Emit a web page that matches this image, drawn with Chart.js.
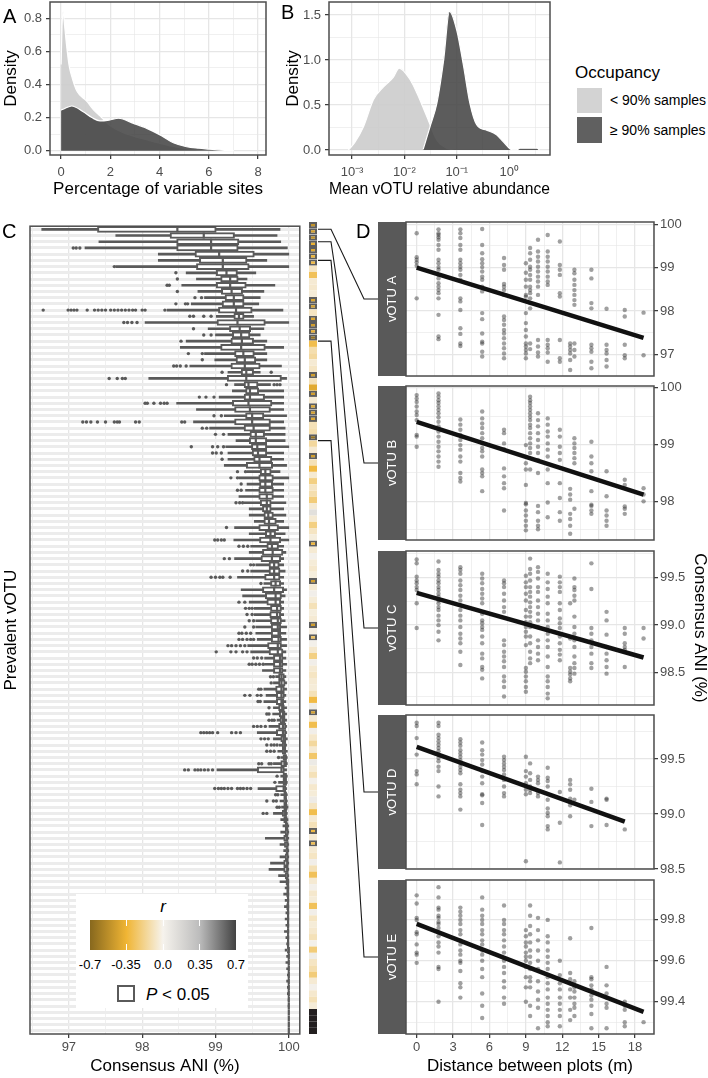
<!DOCTYPE html>
<html>
<head>
<meta charset="utf-8">
<title>Prevalent vOTU microdiversity</title>
<script src="https://cdn.jsdelivr.net/npm/chart.js@4.4.1/dist/chart.umd.min.js"></script>
<style>
  html, body { margin: 0; padding: 0; background: #fff; }
  body { position: relative; width: 708px; height: 1078px; overflow: hidden;
         font-family: "Liberation Sans", Arial, Helvetica, sans-serif; color: #000; }
  canvas { position: absolute; }
  .txt { position: absolute; white-space: nowrap; line-height: 1; }
  .tag { font-size: 20px; }
  .mid { transform: translateX(-50%); }
  .box { position: absolute; }
</style>
</head>
<body>
<canvas id="c_a" width="275" height="200" style="left:0;top:0"></canvas>
<canvas id="c_b" width="280" height="200" style="left:275px;top:0"></canvas>
<canvas id="c_ani" width="306" height="858" style="left:0;top:220px"></canvas>
<canvas id="c_heat" width="8" height="812" style="left:309px;top:222px"></canvas>
<canvas id="c_d0" width="330" height="178" style="left:378px;top:210px"></canvas>
<canvas id="c_d1" width="330" height="178" style="left:378px;top:374px"></canvas>
<canvas id="c_d2" width="330" height="178" style="left:378px;top:539px"></canvas>
<canvas id="c_d3" width="330" height="178" style="left:378px;top:703px"></canvas>
<canvas id="c_d4" width="330" height="210" style="left:378px;top:868px"></canvas>
<canvas id="c_link" width="90" height="840" style="left:300px;top:200px"></canvas>

<div class="txt tag" style="left:3px;top:6px">A</div>
<div class="txt tag" style="left:281px;top:2px">B</div>
<div class="txt tag" style="left:2px;top:221px">C</div>
<div class="txt tag" style="left:356px;top:221px">D</div>

<div class="txt" style="left:575px;top:64px;font-size:17px">Occupancy</div>
<div class="box" style="left:577px;top:88px;width:25px;height:25px;background:#d3d3d3"></div>
<div class="box" style="left:577px;top:117px;width:25px;height:26px;background:#606060"></div>
<div class="txt" style="left:610px;top:93px;font-size:14px">&lt; 90% samples</div>
<div class="txt" style="left:610px;top:123px;font-size:14px">&ge; 90% samples</div>

<div class="box" style="left:76px;top:894px;width:172px;height:114px;background:#fff"></div>
<div class="txt mid" style="left:163px;top:898px;font-size:17px;font-style:italic">r</div>
<div id="colorbar" class="box" style="left:90px;top:920px;width:146px;height:30px"></div>
<div id="cbticks"></div>
<div class="txt mid" style="left:90px;top:958px;font-size:13px">-0.7</div>
<div class="txt mid" style="left:126px;top:958px;font-size:13px">-0.35</div>
<div class="txt mid" style="left:163px;top:958px;font-size:13px">0.0</div>
<div class="txt mid" style="left:200px;top:958px;font-size:13px">0.35</div>
<div class="txt mid" style="left:236px;top:958px;font-size:13px">0.7</div>
<div class="box" style="left:117px;top:985px;width:18px;height:17px;border:2.5px solid #5a5a5a;box-sizing:border-box"></div>
<div class="txt" style="left:146px;top:986px;font-size:17px"><i>P</i> &lt; 0.05</div>

<script>
// ---------------- A: percentage of variable sites (density) ----------------
const pctLowX  = [0, 0.04, 0.08, 0.14, 0.22, 0.32, 0.43, 0.64, 1.04, 1.3, 1.58, 2.0, 2.5, 3.0, 3.5, 4.0, 4.5, 5.0, 5.5, 6.0, 6.5, 7.0];
const pctLowY  = [0.52, 0.76, 0.84, 0.76, 0.64, 0.52, 0.45, 0.36, 0.30, 0.25, 0.21, 0.15, 0.11, 0.085, 0.065, 0.045, 0.027, 0.014, 0.007, 0.003, 0.001, 0];
const pctHighX = [0, 0.15, 0.43, 0.9, 1.25, 1.58, 1.95, 2.33, 2.94, 3.48, 4.02, 4.56, 5.1, 5.6, 6.0, 6.5, 7.0];
const pctHighY = [0.245, 0.255, 0.27, 0.235, 0.2, 0.18, 0.185, 0.196, 0.165, 0.135, 0.095, 0.048, 0.024, 0.015, 0.01, 0.004, 0];

// ---------------- B: mean vOTU relative abundance (density, log x) ----------------
const abundLowX  = [0.00085, 0.00112, 0.00166, 0.00257, 0.00398, 0.00617, 0.00794, 0.0129, 0.0174, 0.0269, 0.0417, 0.0646, 0.0871];
const abundLowY  = [0, 0.08, 0.26, 0.56, 0.70, 0.81, 0.91, 0.78, 0.63, 0.37, 0.11, 0.02, 0];
const abundHighX = [0.0229, 0.0309, 0.0417, 0.0562, 0.0724, 0.1, 0.135, 0.178, 0.240, 0.372, 0.575, 0.776, 1.05, 1.15, 1.4, 1.6, 3.4, 3.8];
const abundHighY = [0.01, 0.26, 0.52, 1.0, 1.54, 1.33, 0.93, 0.52, 0.28, 0.22, 0.17, 0.09, 0.01, 0, 0, 0.02, 0.02, 0];
const abundTicks = [0.001, 0.003162, 0.01, 0.03162, 0.1, 0.3162, 1, 3.162];

// ---------------- C: consensus ANI per prevalent vOTU (boxplots) ----------------
const wLow = [96.63, 97.64, 97.41, 97.22, 98.22, 98.22, 97.64, 98.60, 98.74, 98.54,
  98.76, 98.85, 98.67, 98.34, 99.01, 98.04, 98.90, 99.00, 98.60, 98.52,
  98.85, 98.99, 98.65, 99.17, 98.09, 99.26, 99.23, 99.05, 98.47, 98.74,
  99.12, 98.70, 98.92, 99.17, 99.28, 99.14, 99.17, 99.17, 99.12, 99.43,
  99.32, 99.43, 99.41, 99.32, 99.39, 99.46, 99.46, 99.53, 99.26, 99.46,
  99.25, 99.48, 99.46, 99.26, 99.55, 99.48, 99.30, 99.66, 99.35, 99.37,
  99.46, 99.53, 99.53, 99.55, 99.55, 99.55, 99.57, 99.44, 99.48, 99.67,
  99.67, 99.64, 99.82, 99.79, 99.66, 99.69, 99.66, 99.79, 99.78, 99.84,
  99.73, 99.57, 99.79, 99.87, 99.85, 99.89, 99.79, 99.02, 99.89, 99.86,
  99.58, 99.89, 99.88, 99.90, 99.79, 99.89, 99.92, 99.89, 99.68, 99.88,
  99.93, 99.88, 99.75, 99.73, 99.86, 99.88, 99.95, 99.93, 99.95, 99.94,
  99.96, 99.95, 99.96, 99.94, 99.96, 99.97, 99.95, 99.97, 99.96, 99.97,
  99.98, 99.97, 99.98, 99.98, 99.99, 99.99, 100, 100, 100, 100];
const q1 = [97.39, 98.38, 98.47, 98.47, 98.72, 98.78, 98.74, 99.01, 99.07, 99.01,
  99.08, 99.13, 99.09, 99.04, 99.25, 99.02, 99.19, 99.23, 99.21, 99.07,
  99.26, 99.28, 99.21, 99.35, 99.16, 99.39, 99.41, 99.39, 99.23, 99.26,
  99.41, 99.26, 99.39, 99.47, 99.46, 99.49, 99.50, 99.52, 99.42, 99.61,
  99.59, 99.60, 99.59, 99.59, 99.61, 99.64, 99.66, 99.66, 99.59, 99.68,
  99.60, 99.70, 99.64, 99.62, 99.73, 99.73, 99.67, 99.75, 99.64, 99.68,
  99.70, 99.75, 99.74, 99.75, 99.76, 99.76, 99.76, 99.71, 99.73, 99.79,
  99.79, 99.79, 99.86, 99.86, 99.82, 99.83, 99.83, 99.86, 99.87, 99.88,
  99.86, 99.83, 99.89, 99.91, 99.91, 99.92, 99.89, 99.57, 99.92, 99.92,
  99.82, 99.93, 99.93, 99.93, 99.91, 99.93, 99.95, 99.95, 99.93, 99.94,
  99.96, 99.95, 99.93, 99.93, 99.95, 99.96, 99.97, 99.97, 99.98, 99.97,
  99.98, 99.98, 99.98, 99.98, 99.98, 99.99, 99.98, 99.99, 99.99, 99.99,
  99.99, 99.99, 99.99, 99.99, 100, 100, 100, 100, 100, 100];
const med = [98.48, 98.84, 98.94, 98.94, 99.05, 99.10, 99.10, 99.15, 99.20, 99.20,
  99.22, 99.25, 99.25, 99.28, 99.32, 99.30, 99.33, 99.35, 99.36, 99.35,
  99.38, 99.40, 99.40, 99.42, 99.42, 99.45, 99.47, 99.47, 99.45, 99.47,
  99.50, 99.50, 99.52, 99.55, 99.55, 99.57, 99.58, 99.60, 99.60, 99.68,
  99.68, 99.68, 99.68, 99.70, 99.70, 99.70, 99.72, 99.73, 99.73, 99.75,
  99.75, 99.77, 99.78, 99.77, 99.80, 99.80, 99.80, 99.82, 99.80, 99.82,
  99.82, 99.84, 99.84, 99.85, 99.85, 99.86, 99.86, 99.85, 99.85, 99.88,
  99.88, 99.88, 99.90, 99.90, 99.90, 99.90, 99.90, 99.91, 99.92, 99.92,
  99.92, 99.92, 99.93, 99.94, 99.94, 99.95, 99.94, 99.90, 99.95, 99.95,
  99.93, 99.95, 99.96, 99.96, 99.95, 99.96, 99.97, 99.98, 99.97, 99.98,
  99.98, 99.98, 99.98, 99.98, 99.98, 99.99, 99.99, 99.99, 99.99, 99.99,
  99.99, 99.99, 99.99, 99.99, 99.99, 99.99, 100, 100, 100, 100,
  100, 100, 100, 100, 100, 100, 100, 100, 100, 100];
const q3 = [99.01, 99.26, 99.32, 99.31, 99.53, 99.43, 99.46, 99.30, 99.31, 99.42,
  99.37, 99.39, 99.39, 99.50, 99.39, 99.68, 99.48, 99.47, 99.52, 99.68,
  99.53, 99.55, 99.61, 99.52, 99.90, 99.58, 99.59, 99.67, 99.77, 99.75,
  99.66, 99.75, 99.75, 99.67, 99.70, 99.70, 99.70, 99.77, 99.78, 99.76,
  99.79, 99.78, 99.79, 99.79, 99.76, 99.76, 99.79, 99.83, 99.86, 99.82,
  99.89, 99.86, 99.92, 99.89, 99.87, 99.88, 99.88, 99.89, 99.93, 99.90,
  99.89, 99.90, 99.89, 99.90, 99.89, 99.89, 99.90, 99.90, 99.92, 99.92,
  99.92, 99.92, 99.94, 99.95, 99.94, 99.94, 99.93, 99.94, 99.95, 99.95,
  99.96, 99.96, 99.96, 99.96, 99.96, 99.97, 99.97, 99.94, 99.97, 99.97,
  99.96, 99.97, 99.97, 99.98, 99.97, 99.98, 99.99, 99.99, 99.99, 99.99,
  99.99, 99.99, 99.99, 99.99, 99.99, 100, 100, 100, 100, 100,
  100, 100, 100, 100, 100, 100, 100, 100, 100, 100,
  100, 100, 100, 100, 100, 100, 100, 100, 100, 100];
const wHigh = [99.88, 99.84, 99.89, 99.98, 100.0, 99.70, 100.0, 99.55, 99.43, 99.81,
  99.66, 99.61, 99.59, 99.92, 99.52, 100.0, 99.66, 99.61, 99.70, 99.93,
  99.70, 99.70, 99.90, 99.61, 99.97, 99.75, 99.93, 99.93, 99.93, 99.93,
  99.97, 99.93, 99.95, 99.95, 99.95, 100.0, 99.93, 99.93, 99.97, 99.88,
  100.0, 99.93, 99.93, 99.93, 99.96, 99.93, 99.96, 99.93, 100.0, 99.95,
  100.0, 99.93, 99.96, 99.93, 99.93, 99.95, 99.93, 99.93, 99.97, 99.95,
  99.93, 99.93, 99.93, 99.95, 99.97, 99.96, 99.97, 99.97, 99.96, 99.96,
  99.97, 99.96, 99.96, 99.97, 99.97, 99.96, 99.96, 99.97, 99.97, 99.97,
  99.97, 99.97, 99.98, 99.97, 99.98, 99.98, 99.98, 99.97, 99.98, 99.98,
  99.97, 99.98, 99.98, 99.99, 99.98, 99.99, 100, 100, 100, 100,
  100, 100, 100, 100, 100, 100, 100, 100, 100, 100,
  100, 100, 100, 100, 100, 100, 100, 100, 100, 100,
  100, 100, 100, 100, 100, 100, 100, 100, 100, 100];
// outlying samples, keyed by row (top row = 0)
const outliers = {
  3: [97.06, 97.10, 97.15], 6: [97.62], 7: [98.46], 8: [98.48], 9: [98.34, 98.37], 10: [98.48],
  11: [98.72, 98.81], 12: [98.46, 98.59, 98.62],
  13: [96.65, 96.99, 97.03, 97.07, 97.11, 97.25, 97.35, 97.40, 97.45, 97.50, 97.57, 97.62, 97.67, 97.72, 97.77, 97.82, 97.87, 97.91, 98.00, 98.04, 98.31],
  14: [98.65, 98.70, 98.84, 98.94], 15: [97.75, 97.80, 97.86, 97.93], 16: [98.70], 17: [98.84, 98.94], 18: [98.53],
  20: [98.63, 98.82], 21: [98.82], 22: [98.43, 98.47, 98.52, 98.60], 23: [99.09, 99.76], 24: [97.55, 97.66, 97.73, 97.77],
  25: [99.15, 99.80, 99.84, 99.88], 27: [98.78, 98.87, 98.98], 28: [98.04, 98.07, 98.16, 98.25, 98.30, 98.34],
  30: [98.98, 99.08], 31: [97.19, 97.24, 97.30, 97.39, 97.50, 97.62, 97.66, 97.69, 97.91, 97.96, 98.54, 98.58],
  32: [98.82, 98.88], 33: [99.00, 99.11], 35: [98.67, 98.96, 99.03, 99.11], 36: [98.96, 99.01, 99.08], 37: [99.09],
  39: [99.30, 99.41], 40: [99.21, 99.30], 41: [99.35], 42: [99.30, 99.35], 44: [99.28, 99.33, 99.37], 48: [99.15],
  50: [98.99, 99.03, 99.08, 99.12], 51: [99.32, 99.38, 99.44], 53: [99.12, 99.19], 54: [99.48, 99.52], 55: [99.37, 99.44],
  56: [98.94, 99.00, 99.06, 99.10, 99.20], 57: [99.62], 60: [99.32, 99.40], 61: [99.41, 99.46, 99.50], 62: [99.43, 99.50],
  63: [99.46, 99.52], 64: [99.40, 99.52], 65: [99.32, 99.36, 99.42, 99.48], 66: [99.32, 99.37, 99.43, 99.48, 99.52],
  67: [99.17, 99.22, 99.28, 99.34, 99.40], 68: [99.01, 99.21, 99.28, 99.37, 99.43], 69: [99.52, 99.57, 99.63],
  70: [99.46, 99.50, 99.55, 99.60, 99.65], 72: [99.75, 99.79], 73: [99.76], 74: [99.59, 99.62], 75: [99.40, 99.47, 99.57, 99.62],
  76: [99.58, 99.61], 77: [99.73], 78: [99.70, 99.73], 79: [99.73, 99.77, 99.80], 80: [99.52, 99.57, 99.62, 99.68],
  81: [98.80, 98.84, 98.88, 98.92, 98.96, 99.03, 99.22, 99.28, 99.34], 82: [99.62, 99.67, 99.72], 83: [99.70, 99.76, 99.80, 99.84],
  84: [99.70, 99.75, 99.80], 85: [99.86], 86: [99.59, 99.63, 99.73, 99.76], 87: [98.58, 98.63, 98.72, 98.76, 98.80, 98.85, 98.90, 98.96],
  88: [99.84], 89: [99.81], 90: [98.99, 99.04, 99.08, 99.12, 99.17, 99.22, 99.30, 99.34, 99.38, 99.43, 99.48],
  91: [99.82, 99.85], 92: [99.70, 99.79, 99.83], 93: [99.84, 99.87], 94: [99.65, 99.70]
};
// correlation of ANI with distance, per vOTU (null = not available)
const rValues = [-0.50, -0.45, -0.52, -0.36, -0.40, -0.36, -0.33, -0.08, -0.28, -0.05,
  -0.06, -0.04, -0.42, -0.45, -0.08, -0.40, -0.45, -0.38, -0.66, -0.30,
  -0.12, -0.15, -0.05, -0.08, -0.45, -0.10, -0.40, -0.45, -0.05, -0.42,
  -0.45, -0.40, -0.10, -0.12, -0.66, -0.15, -0.05, -0.45, -0.10, -0.32,
  -0.05, -0.20, -0.08, -0.12, -0.22, -0.05, 0.12, -0.05, -0.20, -0.08,
  -0.03, -0.35, -0.05, 0.02, -0.04, -0.06, -0.03, -0.45, -0.05, 0.03,
  -0.04, -0.10, -0.03, -0.05, -0.45, -0.02, -0.28, 0.02, -0.06, -0.20,
  0.03, -0.05, -0.08, -0.05, -0.04, -0.10, -0.32, 0.04, -0.45, -0.05,
  -0.30, 0.03, -0.06, -0.15, -0.05, -0.25, 0.06, -0.04, -0.10, 0.02,
  -0.06, -0.04, 0.05, -0.08, -0.30, -0.05, -0.10, -0.32, -0.05, -0.30,
  -0.05, -0.08, 0.03, -0.10, -0.28, -0.05, 0.02, -0.06, -0.04, -0.28,
  0.03, -0.08, -0.04, -0.06, -0.10, 0.02, -0.22, 0.04, -0.08, -0.12,
  -0.22, -0.05, 0.02, -0.06, -0.10, -0.04, null, null, null, null];
const sigRows = [0, 1, 2, 3, 4, 5, 6, 12, 13, 15, 16, 17, 18, 24, 27, 29, 30, 31, 34, 37, 51, 57, 64, 66, 78, 97, 99];
const rStops = [[-0.7, [135, 104, 30]], [-0.35, [240, 181, 52]], [0, [246, 243, 237]], [0.35, [188, 188, 188]], [0.7, [66, 66, 66]]];

// ---------------- D: ANI vs distance for five vOTUs ----------------
const distances = [0, 1.8, 3.6, 5.4, 7.2, 9.0, 9.35, 10.0, 10.8, 11.8, 12.65, 13.0, 14.4, 15.65, 17.15, 18.7];
const aniA = [
  [99.79, 99.24, 99.18, 99.12, 99.04, 98.29],
  [99.88, 99.79, 99.75, 99.70, 99.64, 99.52, 99.41, 99.18, 99.10, 99.01, 98.95, 98.83, 98.75, 98.64, 98.56, 98.48, 98.41, 98.29, 97.91, 97.41, 97.35],
  [99.88, 99.79, 99.68, 99.52, 99.41, 99.18, 99.10, 99.02, 98.95, 98.83, 98.72, 98.29, 98.22, 98.02, 97.60, 97.47, 97.25, 97.19],
  [99.89, 99.52, 99.33, 99.19, 99.10, 99.01, 98.91, 98.79, 98.72, 98.56, 98.45, 97.95, 97.81, 97.48, 97.29, 97.25, 97.06, 96.95],
  [99.22, 99.06, 98.95, 98.62, 98.56, 98.48, 98.37, 97.87, 97.79, 97.68, 97.56, 97.48, 97.37, 97.25, 97.14, 97.02, 96.91],
  [99.10, 98.88, 98.72, 98.56, 98.37, 98.33, 97.95, 97.72, 97.56, 97.41, 97.25, 97.18, 97.10, 97.02, 96.91],
  [99.45, 99.33, 99.18, 99.02, 98.95, 98.83, 98.72, 98.56, 98.48, 98.41, 98.29, 98.18, 98.06, 97.25, 97.12],
  [99.64, 99.37, 99.25, 99.14, 99.02, 98.91, 98.79, 98.68, 98.56, 98.37, 97.33, 97.18, 97.04, 96.95],
  [99.75, 99.37, 99.25, 99.14, 99.02, 98.91, 98.79, 98.68, 98.60, 97.33, 97.22, 97.14, 97.04, 96.83],
  [99.60, 99.06, 98.95, 98.83, 98.41, 98.33, 97.33, 96.91, 96.83],
  [97.25, 97.18, 97.10, 97.02, 96.87, 96.64],
  [98.95, 98.87, 98.72, 98.60, 98.48, 98.37, 98.25, 98.14, 97.25, 97.10, 96.95],
  [98.95, 98.75, 98.18, 98.06, 97.22, 97.14, 97.06, 96.83, 96.68],
  [98.05, 97.22, 97.10, 97.02, 96.87, 96.72],
  [98.02, 97.87, 97.22, 96.98, 96.91],
  [97.96, 96.98]
];
const aniB = [
  [99.87, 99.81, 99.75, 99.67, 99.58, 99.52, 99.43, 99.17, 99.14, 98.96],
  [99.90, 99.84, 99.78, 99.73, 99.67, 99.61, 99.55, 99.48, 99.40, 99.32, 99.23, 99.14, 99.05, 98.96, 98.88, 98.79, 98.70, 98.61],
  [99.44, 99.35, 99.26, 99.17, 99.08, 98.99, 98.91, 98.79, 98.70, 98.50, 98.41, 98.35],
  [99.58, 99.46, 99.37, 99.29, 99.20, 99.11, 99.02, 98.94, 98.88, 98.79, 98.56, 98.50, 98.44, 98.18],
  [99.26, 99.20, 99.02, 98.92, 98.58, 98.44, 98.32, 98.23, 97.84],
  [98.99, 98.67, 98.56, 98.29, 97.97, 97.95, 97.84, 97.75, 97.66, 97.57, 97.49],
  [99.84, 99.78, 99.73, 99.67, 99.61, 99.55, 99.49, 99.43, 99.35, 99.29, 99.20, 99.11, 99.02, 98.94, 98.85, 98.56],
  [99.55, 99.43, 99.32, 99.20, 99.08, 98.96, 98.85, 98.73, 98.50, 97.92, 97.81, 97.66, 97.57, 97.51],
  [99.46, 99.35, 99.23, 99.14, 99.02, 98.91, 98.79, 98.56, 98.32, 97.98, 97.72],
  [99.26, 99.14, 98.96, 98.85, 98.73, 98.32, 98.06, 97.81, 97.66],
  [98.22, 98.12, 98.03, 97.78, 97.69, 97.57, 97.43],
  [99.11, 99.02, 98.94, 98.85, 98.76, 98.67, 97.87],
  [99.05, 98.79, 98.67, 98.53, 98.18, 97.94, 97.92, 97.84, 97.78],
  [98.53, 98.09, 97.84, 97.75, 97.66, 97.57],
  [98.38, 98.29, 97.91, 97.87, 97.78],
  [98.23, 98.12, 98.00]
];
const aniC = [
  [99.69, 99.65, 99.51, 99.47, 99.44, 99.40, 99.37, 99.23, 98.97],
  [99.67, 99.58, 99.54, 99.51, 99.47, 99.44, 99.40, 99.37, 99.33, 99.30, 99.26, 99.23, 99.19, 99.16, 99.10, 99.05, 99.00, 98.93, 98.84],
  [99.61, 99.58, 99.54, 99.47, 99.42, 99.37, 99.31, 99.26, 99.21, 99.16, 99.10, 99.05, 98.98, 98.91, 98.86, 98.81, 98.72, 98.58],
  [99.54, 99.49, 99.44, 99.38, 99.33, 99.28, 99.23, 99.12, 99.05, 99.02, 98.98, 98.95, 98.88, 98.81, 98.70, 98.65, 98.56, 98.53, 98.44],
  [99.47, 99.44, 99.40, 99.33, 99.26, 99.19, 99.14, 98.84, 98.79, 98.72, 98.67, 98.62, 98.56, 98.46, 98.41, 98.35, 98.25],
  [99.52, 99.45, 99.40, 99.33, 99.26, 99.16, 99.09, 99.03, 98.98, 98.93, 98.88, 98.79, 98.55, 98.51, 98.46, 98.41, 98.35, 98.30],
  [99.70, 99.59, 99.54, 99.47, 99.40, 99.35, 99.30, 99.24, 99.19, 99.14, 99.09, 99.03, 98.98, 98.88, 98.81, 98.72, 98.65, 98.60],
  [99.61, 99.56, 99.49, 99.40, 99.35, 99.26, 99.19, 99.12, 99.05, 98.98, 98.84, 98.77, 98.70, 98.63],
  [99.54, 99.45, 99.38, 99.30, 99.23, 99.12, 99.05, 98.98, 98.91, 98.84, 98.77, 98.67, 98.56, 98.46, 98.41, 98.35, 98.28, 98.23],
  [99.51, 99.45, 99.40, 99.35, 99.23, 99.16, 99.07, 99.02, 98.97, 98.88, 98.81, 98.74, 98.69, 98.63],
  [99.23, 98.86, 98.55, 98.51, 98.48, 98.44, 98.41],
  [99.49, 99.40, 99.37, 99.31, 99.26, 99.09, 98.98, 98.91, 98.84, 98.77, 98.67, 98.60, 98.55, 98.49],
  [99.65, 99.38, 98.97, 98.91, 98.84, 98.77, 98.70, 98.60, 98.55],
  [99.14, 99.05, 98.90, 98.77, 98.70, 98.63, 98.56, 98.49],
  [98.97, 98.91, 98.81, 98.77, 98.74, 98.56],
  [98.97, 98.86]
];
const aniD = [
  [99.83, 99.80, 99.69, 99.54, 99.39, 99.36, 99.27],
  [99.83, 99.80, 99.72, 99.69, 99.66, 99.63, 99.60, 99.57, 99.54, 99.51, 99.48, 99.43, 99.39, 99.25, 99.16],
  [99.68, 99.65, 99.62, 99.58, 99.55, 99.52, 99.49, 99.46, 99.43, 99.40, 99.37, 99.27, 99.19, 99.22, 99.16, 99.04],
  [99.65, 99.58, 99.54, 99.49, 99.45, 99.39, 99.34, 99.28, 99.18, 99.17, 99.10, 98.90],
  [99.52, 99.49, 99.46, 99.43, 99.40, 99.36, 99.31, 99.25, 99.19, 99.16],
  [99.52, 99.39, 99.34, 99.28, 99.22, 99.18, 98.57],
  [99.46, 99.37, 99.31, 99.25, 99.22, 99.19],
  [99.34, 99.31, 99.28, 99.19, 99.16],
  [99.42, 99.33, 99.30, 99.25, 99.13, 99.05, 99.01, 98.98, 98.89, 98.86],
  [99.20, 98.92, 98.56],
  [99.31, 99.27, 99.22, 99.14, 99.11, 99.08, 98.98],
  [99.13],
  [99.23, 99.11, 98.89],
  [99.14, 99.13, 98.90],
  [98.86],
  []
];
const aniE = [
  [99.92, 99.88, 99.81, 99.80, 99.74, 99.73, 99.68, 99.64, 99.63, 99.59],
  [99.96, 99.91, 99.86, 99.85, 99.82, 99.81, 99.79, 99.78, 99.76, 99.74, 99.72, 99.69, 99.67, 99.64, 99.57, 99.56, 99.40],
  [99.86, 99.84, 99.82, 99.80, 99.78, 99.75, 99.73, 99.70, 99.68, 99.65, 99.63, 99.60, 99.59, 99.55, 99.49, 99.47, 99.42],
  [99.91, 99.85, 99.82, 99.80, 99.78, 99.75, 99.73, 99.70, 99.68, 99.65, 99.63, 99.60, 99.56, 99.52, 99.44, 99.38, 99.32],
  [99.87, 99.80, 99.78, 99.75, 99.73, 99.70, 99.67, 99.64, 99.60, 99.57, 99.54, 99.50, 99.47, 99.42, 99.39],
  [99.75, 99.72, 99.69, 99.67, 99.64, 99.62, 99.60, 99.57, 99.52, 99.47, 99.40],
  [99.87, 99.82, 99.77, 99.73, 99.69, 99.65, 99.62, 99.59, 99.56, 99.52, 99.50, 99.47, 99.38, 99.33],
  [99.81, 99.75, 99.70, 99.65, 99.60, 99.56, 99.50, 99.45, 99.41, 99.37, 99.27],
  [99.80, 99.72, 99.69, 99.65, 99.62, 99.59, 99.56, 99.52, 99.49, 99.46, 99.42, 99.39, 99.36, 99.33, 99.30, 99.28],
  [99.60, 99.53, 99.49, 99.46, 99.42, 99.39, 99.36, 99.33, 99.28],
  [99.71, 99.54, 99.51, 99.49, 99.46, 99.42, 99.36, 99.31],
  [99.50, 99.47, 99.45, 99.42, 99.39, 99.37, 99.33],
  [99.76, 99.52, 99.51, 99.48, 99.46, 99.43, 99.41, 99.38, 99.34, 99.27],
  [99.57, 99.48, 99.44, 99.42, 99.39, 99.37, 99.27],
  [99.40, 99.38, 99.36, 99.30, 99.28],
  [99.30]
];
// fitted linear trend: [distance, ANI] at both ends
const fitA = [[0, 99.00], [18.7, 97.38]];
const fitB = [[0, 99.40], [18.7, 98.12]];
const fitC = [[0, 99.34], [18.7, 98.66]];
const fitD = [[0, 99.61], [17.15, 98.93]];
const fitE = [[0, 99.78], [18.7, 99.35]];
const linkRows = [0, 2, 5, 18, 34];

// ---------------- shared look ----------------
Chart.defaults.font.family = '"Liberation Sans", Arial, Helvetica, sans-serif';
Chart.defaults.font.size = 13;
Chart.defaults.color = '#4d4d4d';
Chart.defaults.animation = false;
Chart.defaults.responsive = false;
Chart.defaults.devicePixelRatio = 1;
Chart.defaults.events = [];
Chart.defaults.plugins.legend.display = false;
Chart.defaults.plugins.tooltip.enabled = false;

const boxInk = '#5a5a5a';
const titleFont = {size: 17};

function isMult(v, m) { return Math.abs(v / m - Math.round(v / m)) < 1e-6; }
function isDecade(v) { const l = Math.log10(v); return Math.abs(l - Math.round(l)) < 1e-3; }

function gridFor(isMajor, ticks) {
  return {
    color: '#e6e6e6',
    lineWidth: c => (c.tick && isMajor(c.tick.value)) ? 1.3 : 0.6,
    drawTicks: ticks,
    tickLength: 4,
    tickWidth: 1.2,
    tickColor: c => (c.tick && isMajor(c.tick.value)) ? '#333333' : 'rgba(0,0,0,0)'
  };
}

function fixSize(prop, size) {
  return function (s) {
    s[prop] = size;
    s.paddingTop = 0; s.paddingBottom = 0; s.paddingLeft = 0; s.paddingRight = 0;
  };
}

function xy(xs, ys) { return xs.map((x, i) => ({x: x, y: ys[i]})); }

function rColor(r) {
  if (r === null) return '#231f20';
  for (let i = 1; i < rStops.length; i++) {
    if (r <= rStops[i][0] || i === rStops.length - 1) {
      const a = rStops[i - 1], b = rStops[i];
      const t = Math.max(0, Math.min(1, (r - a[0]) / (b[0] - a[0])));
      const c = a[1].map((v, k) => Math.round(v + (b[1][k] - v) * t));
      return 'rgb(' + c.join(',') + ')';
    }
  }
}

const framePlugin = {
  id: 'frame',
  afterDraw(chart) {
    const a = chart.chartArea, ctx = chart.ctx;
    ctx.save();
    ctx.strokeStyle = '#4d4d4d';
    ctx.lineWidth = 1.5;
    ctx.strokeRect(a.left, a.top, a.right - a.left, a.bottom - a.top);
    ctx.restore();
  }
};

const stripPlugin = {
  id: 'strip',
  beforeDraw(chart) {
    const s = chart.scales.strip, a = chart.chartArea, ctx = chart.ctx;
    if (!s) return;
    ctx.save();
    ctx.fillStyle = '#595959';
    ctx.fillRect(s.left, a.top, s.right - s.left, a.bottom - a.top);
    ctx.restore();
  }
};

function densitySet(points, fillColor, order) {
  return {
    data: points, order: order, fill: 'origin',
    backgroundColor: fillColor, borderColor: '#ffffff', borderWidth: 1.2,
    pointRadius: 0, cubicInterpolationMode: 'monotone'
  };
}

const lowFill = 'rgba(204,204,204,0.9)';
const highFill = 'rgba(64,64,64,0.85)';

// ---------------- panel A ----------------
new Chart(document.getElementById('c_a'), {
  type: 'line',
  data: {datasets: [
    densitySet(xy(pctHighX, pctHighY), highFill, 0),
    densitySet(xy(pctLowX, pctLowY), lowFill, 1)
  ]},
  options: {
    layout: {padding: {top: 2, right: 9, bottom: 0, left: 0}},
    scales: {
      x: {
        type: 'linear', min: -0.45, max: 8.32,
        ticks: {stepSize: 1, includeBounds: false, autoSkip: false, maxRotation: 0, padding: 6,
                callback: v => isMult(v, 2) ? String(v) : ''},
        grid: gridFor(v => isMult(v, 2), true), border: {display: false},
        title: {display: true, text: 'Percentage of variable sites', color: '#000', font: titleFont, padding: 0},
        afterFit: fixSize('height', 45)
      },
      y: {
        type: 'linear', min: -0.026, max: 0.898,
        ticks: {stepSize: 0.1, includeBounds: false, autoSkip: false, padding: 4,
                callback: v => isMult(v, 0.2) ? v.toFixed(1) : ''},
        grid: gridFor(v => isMult(v, 0.2), true), border: {display: false},
        title: {display: true, text: 'Density', color: '#000', font: titleFont, padding: {top: 1.5, bottom: 0}},
        afterFit: fixSize('width', 50)
      }
    }
  },
  plugins: [framePlugin]
});

// ---------------- panel B ----------------
const sup = {'-': '\u207B', '0': '\u2070', '1': '\u00B9', '2': '\u00B2', '3': '\u00B3'};
new Chart(document.getElementById('c_b'), {
  type: 'line',
  data: {datasets: [
    densitySet(xy(abundHighX, abundHighY), highFill, 0),
    densitySet(xy(abundLowX, abundLowY), lowFill, 1)
  ]},
  options: {
    layout: {padding: {top: 2, right: 5, bottom: 0, left: 0}},
    scales: {
      x: {
        type: 'logarithmic', min: 0.000363, max: 6.03,
        afterBuildTicks: s => { s.ticks = abundTicks.map(v => ({value: v})); },
        ticks: {autoSkip: false, maxRotation: 0, padding: 6,
                callback: v => isDecade(v) ? '10' + String(Math.round(Math.log10(v))).split('').map(ch => sup[ch]).join('') : ''},
        grid: gridFor(isDecade, true), border: {display: false},
        title: {display: true, text: 'Mean vOTU relative abundance', color: '#000', font: titleFont, padding: 0},
        afterFit: fixSize('height', 45)
      },
      y: {
        type: 'linear', min: -0.056, max: 1.644,
        ticks: {stepSize: 0.25, includeBounds: false, autoSkip: false, padding: 4,
                callback: v => isMult(v, 0.5) ? v.toFixed(1) : ''},
        grid: gridFor(v => isMult(v, 0.5), true), border: {display: false},
        title: {display: true, text: 'Density', color: '#000', font: titleFont, padding: {top: 8, bottom: 0}},
        afterFit: fixSize('width', 54)
      }
    }
  },
  plugins: [framePlugin]
});

// ---------------- panel C: boxplots ----------------
const rowLabels = wLow.map((v, i) => 'vOTU ' + (i + 1));
const medianPts = med.map((v, i) => ({x: v, y: rowLabels[i]}));
const outlierPts = [];
Object.keys(outliers).forEach(k => {
  outliers[k].forEach(v => outlierPts.push({x: v, y: rowLabels[+k]}));
});

const aniChart = new Chart(document.getElementById('c_ani'), {
  type: 'bar',
  data: {
    labels: rowLabels,
    datasets: [
      {type: 'scatter', data: outlierPts, order: 1, pointRadius: 1.7, backgroundColor: boxInk, borderWidth: 0},
      {type: 'scatter', data: medianPts, order: 2, pointStyle: 'line', rotation: 90, pointRadius: 3,
       borderColor: boxInk, borderWidth: 2.2},
      {data: q1.map((v, i) => [v, q3[i]]), order: 3, grouped: false, barThickness: 6,
       backgroundColor: '#ffffff', borderColor: boxInk, borderWidth: 2, borderSkipped: false},
      {data: wLow.map((v, i) => [v, wHigh[i]]), order: 4, grouped: false, barThickness: 2,
       backgroundColor: boxInk, borderWidth: 0}
    ]
  },
  options: {
    indexAxis: 'y',
    layout: {padding: {top: 2, right: 3, bottom: 0, left: 0}},
    scales: {
      x: {
        type: 'linear', min: 96.47, max: 100.15,
        ticks: {stepSize: 0.5, includeBounds: false, autoSkip: false, maxRotation: 0, padding: 2,
                callback: v => isMult(v, 1) ? String(v) : ''},
        grid: gridFor(v => isMult(v, 1), true), border: {display: false},
        title: {display: true, text: 'Consensus ANI (%)', color: '#000', font: titleFont, padding: {top: 0, bottom: 1}},
        afterFit: fixSize('height', 44)
      },
      y: {
        type: 'category', offset: true,
        ticks: {display: false, autoSkip: false},
        grid: {offset: false, color: '#ececec', lineWidth: 3, drawTicks: false},
        border: {display: false},
        title: {display: true, text: 'Prevalent vOTU', color: '#000', font: titleFont, padding: {top: 1, bottom: 0}},
        afterFit: fixSize('width', 30)
      }
    }
  },
  plugins: [framePlugin]
});

// ---------------- heat strip of r ----------------
new Chart(document.getElementById('c_heat'), {
  type: 'bar',
  data: {
    labels: rowLabels,
    datasets: [{
      data: rValues.map(() => [0, 1]),
      backgroundColor: rValues.map(rColor),
      borderColor: rValues.map((r, i) => sigRows.includes(i) ? '#5e5e5e' : 'rgba(0,0,0,0)'),
      borderWidth: rValues.map((r, i) => sigRows.includes(i) ? 2 : 0),
      borderSkipped: false, barPercentage: 1, categoryPercentage: 1, inflateAmount: 0
    }]
  },
  options: {
    indexAxis: 'y',
    layout: {padding: 0},
    scales: {x: {display: false, min: 0, max: 1}, y: {display: false}}
  }
});

// ---------------- panel D: facets ----------------
const facets = [
  {name: 'vOTU A', cols: aniA, fit: fitA, min: 96.50, max: 100.05, step: 0.5, major: 1, digits: 0},
  {name: 'vOTU B', cols: aniB, fit: fitB, min: 97.32, max: 100.03, step: 0.5, major: 1, digits: 0},
  {name: 'vOTU C', cols: aniC, fit: fitC, min: 98.16, max: 99.78, step: 0.25, major: 0.5, digits: 1},
  {name: 'vOTU D', cols: aniD, fit: fitD, min: 98.50, max: 99.90, step: 0.25, major: 0.5, digits: 1},
  {name: 'vOTU E', cols: aniE, fit: fitE, min: 99.242, max: 99.995, step: 0.1, major: 0.2, digits: 1}
];

const facetCharts = facets.map((f, k) => {
  const last = k === facets.length - 1;
  const pts = distances.flatMap((d, i) => f.cols[i].map(v => ({x: d, y: v})));
  return new Chart(document.getElementById('c_d' + k), {
    type: 'scatter',
    data: {datasets: [
      {type: 'line', data: f.fit.map(p => ({x: p[0], y: p[1]})), order: 0,
       borderColor: '#111111', borderWidth: 4.5, pointRadius: 0, fill: false},
      {data: pts, order: 1, pointRadius: 2.2, backgroundColor: 'rgba(45,45,45,0.45)', borderWidth: 0}
    ]},
    options: {
      layout: {padding: {top: 12, right: 0, bottom: last ? 0 : 12, left: 0}},
      scales: {
        x: {
          type: 'linear', min: -0.88, max: 19.56,
          ticks: {display: last, stepSize: 1.5, includeBounds: false, autoSkip: false, maxRotation: 0, padding: 2,
                  callback: v => isMult(v, 3) ? String(v) : ''},
          grid: gridFor(v => isMult(v, 3), last), border: {display: false},
          title: {display: last, text: 'Distance between plots (m)', color: '#000', font: titleFont, padding: {top: 0, bottom: 1}},
          afterFit: fixSize('height', last ? 44 : 0)
        },
        y: {
          type: 'linear', position: 'right', min: f.min, max: f.max,
          ticks: {stepSize: f.step, includeBounds: false, autoSkip: false, padding: 2,
                  callback: v => isMult(v, f.major) ? v.toFixed(f.digits) : ''},
          grid: gridFor(v => isMult(v, f.major), true), border: {display: false},
          title: {display: k === 2, text: 'Consensus ANI (%)', color: '#000',
                  font: {size: 17, lineHeight: 1}, padding: {top: 0, bottom: 0}},
          afterFit: fixSize('width', 54)
        },
        strip: {
          type: 'linear', position: 'left', display: true,
          ticks: {display: false}, grid: {display: false, drawTicks: false}, border: {display: false},
          title: {display: true, text: f.name, color: '#ffffff', font: {size: 13}, padding: {top: 7, bottom: 0}},
          afterFit: fixSize('width', 28)
        }
      }
    },
    plugins: [stripPlugin, framePlugin]
  });
});

// ---------------- connectors from heat strip to facets ----------------
(function () {
  const cv = document.getElementById('c_link');
  const ctx = cv.getContext('2d');
  const ox = cv.offsetLeft, oy = cv.offsetTop;
  const aniCv = document.getElementById('c_ani');
  const heatCv = document.getElementById('c_heat');
  ctx.strokeStyle = '#1a1a1a';
  ctx.lineWidth = 1.1;
  linkRows.forEach((row, i) => {
    const fc = facetCharts[i];
    const fcv = fc.canvas;
    const y0 = aniCv.offsetTop + aniChart.scales.y.getPixelForValue(row) - oy;
    const y1 = fcv.offsetTop + (fc.chartArea.top + fc.chartArea.bottom) / 2 - oy;
    const x0 = heatCv.offsetLeft + heatCv.width + 1 - ox;
    const x3 = fcv.offsetLeft - ox;
    ctx.beginPath();
    ctx.moveTo(x0, y0);
    ctx.lineTo(x0 + 13, y0);
    ctx.lineTo(x3 - 14, y1);
    ctx.lineTo(x3, y1);
    ctx.stroke();
  });
})();

// ---------------- colour bar for r ----------------
(function () {
  const bar = document.getElementById('colorbar');
  const stops = rStops.map(s => 'rgb(' + s[1].join(',') + ') ' + ((s[0] + 0.7) / 1.4 * 100).toFixed(1) + '%');
  bar.style.background = 'linear-gradient(to right, ' + stops.join(', ') + ')';
  const holder = document.getElementById('cbticks');
  [-0.35, 0, 0.35].forEach(v => {
    const x = 90 + (v + 0.7) / 1.4 * 146;
    [920, 944].forEach(t => {
      const d = document.createElement('div');
      d.className = 'box';
      d.style.cssText = 'left:' + (x - 0.5) + 'px;top:' + t + 'px;width:1px;height:6px;background:#fff';
      holder.appendChild(d);
    });
  });
})();
</script>
</body>
</html>
